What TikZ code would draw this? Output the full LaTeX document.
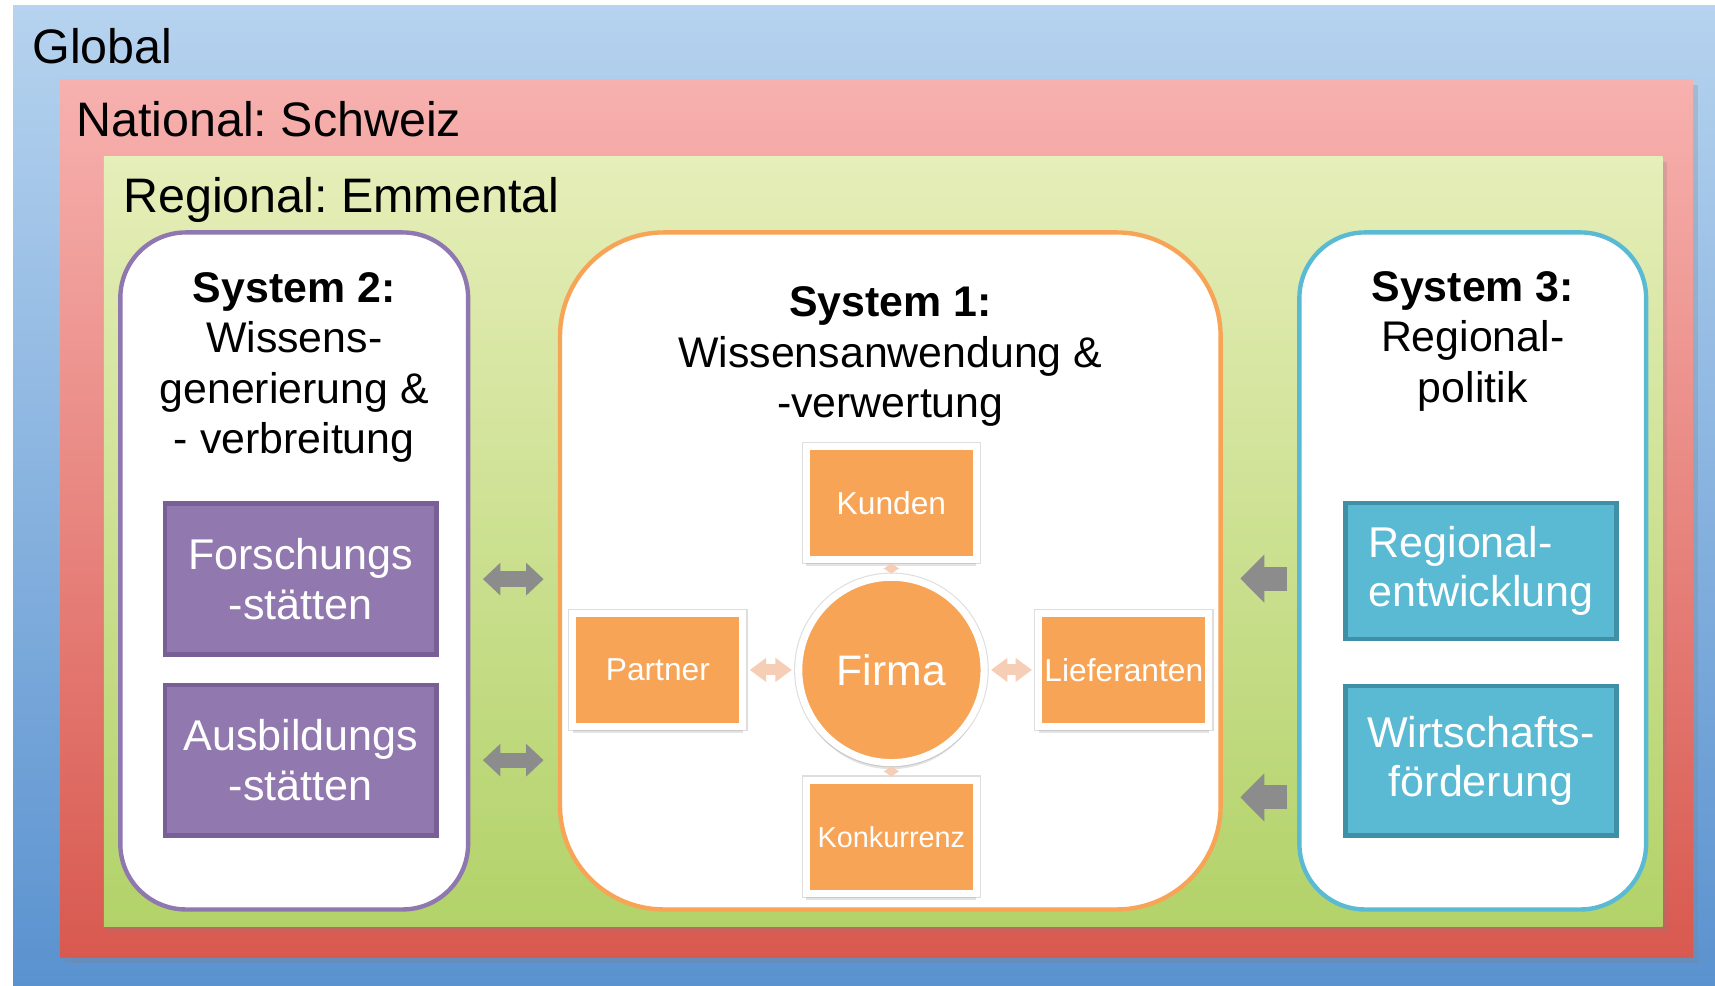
\documentclass[tikz,border=0pt]{standalone}
\usepackage{fontspec}
\setmainfont{Liberation Sans}
\usepackage{tikz}
\usetikzlibrary{positioning}
\usetikzlibrary{calc}
\usetikzlibrary{arrows.meta}
\usetikzlibrary{shadows}
\frenchspacing

\definecolor{glbtop}{HTML}{B6D3EF}
\definecolor{glbbot}{HTML}{5A92CF}
\definecolor{nattop}{HTML}{F7B1AF}
\definecolor{natbot}{HTML}{D8594F}
\definecolor{regtop}{HTML}{E6EEB9}
\definecolor{regbot}{HTML}{B2D269}
\definecolor{lila}{HTML}{8F77B0}
\definecolor{lilafill}{HTML}{9179B0}
\definecolor{liladark}{HTML}{785F96}
\definecolor{firmorange}{HTML}{F8A456}
\definecolor{tuerkis}{HTML}{5BBAD3}
\definecolor{tuerkisdark}{HTML}{3F8FA6}
\definecolor{pfeilgrau}{HTML}{8C8C8C}
\definecolor{linkpink}{HTML}{F6CDB5}

\newcommand{\lvlfont}{\fontsize{12.6pt}{15pt}\selectfont}
\newcommand{\sysfont}{\fontsize{11.15pt}{13.1pt}\selectfont}
\newcommand{\kastenfont}{\fontsize{11.2pt}{12.8pt}\selectfont}
\newcommand{\partfont}{\fontsize{8.25pt}{10pt}\selectfont}

\begin{document}
\begin{tikzpicture}[node distance=2cm,on grid,
    layer/.style={inner sep=0pt, outer sep=0pt},
    layerlabel/.style={anchor=base west, inner sep=0pt, font=\lvlfont},
    system/.style={draw, line width=0.4mm, fill=white, rounded corners=0.6cm, minimum height=6.19cm},
    systitle/.style={anchor=north, inner sep=0pt, align=center, font=\sysfont},
    sysbox/.style={line width=0.4mm, minimum width=2.48cm, text=white, align=center, font=\kastenfont},
    whiteframe/.style={fill=firmorange, draw=white, line width=0.65mm, text=white,
        preaction={draw=black!13, line width=0.85mm},
        drop shadow={opacity=0.22, shadow xshift=0pt, shadow yshift=-0.6mm}},
    partbox/.style={whiteframe, inner sep=0pt,
        minimum width=1.555cm, minimum height=1.035cm, font=\partfont},
    twoway/.style={draw=pfeilgrau, line width=1.4mm,
        {Triangle[width=2.9mm,length=1.6mm]}-{Triangle[width=2.9mm,length=1.6mm]},
        shorten <=1.15mm, shorten >=1.3mm},
    pushleft/.style={draw=pfeilgrau, line width=2.2mm, -{Triangle[width=4.3mm,length=2.2mm]},
        shorten <=0.9mm, shorten >=1.6mm},
    linkarrow/.style={draw=linkpink, line width=1mm,
        {Triangle[width=2.1mm,length=1.5mm]}-{Triangle[width=2.1mm,length=1.5mm]},
        shorten <=0.3mm, shorten >=0.3mm},
    linkdiamond/.style={draw=linkpink, line width=0.2mm,
        {Triangle[width=1.4mm,length=0.5mm]}-{Triangle[width=1.4mm,length=0.5mm]}}
  ]
    \useasboundingbox (0,0) rectangle (15.68,-9.01);
    \fill[white] (0,0) rectangle (15.68,-9.01);

    % ebenen
    \node[layer, top color=glbtop, bottom color=glbbot, minimum width=15.56cm, minimum height=8.96cm] (global) at (7.90,-4.53) {};
    \node[layer, top color=nattop, bottom color=natbot, minimum width=14.93cm, minimum height=8.02cm,
          drop shadow={opacity=0.25, shadow xshift=0.4mm, shadow yshift=-0.5mm}] (national) at (8.015,-4.74) {};
    \node[layer, top color=regtop, bottom color=regbot, minimum width=14.25cm, minimum height=7.04cm,
          drop shadow={opacity=0.25, shadow xshift=0.4mm, shadow yshift=-0.5mm}] (regional) at (8.075,-4.95) {};

    \node[layerlabel] (globaltxt)   at ($(global.north west)+(0.17,-0.535)$)   {Global};
    \node[layerlabel] (nationaltxt) at ($(national.north west)+(0.14,-0.52)$)  {National: Schweiz};
    \node[layerlabel] (regionaltxt) at ($(regional.north west)+(0.17,-0.51)$)  {Regional: Emmental};

    % die drei systeme
    \node[system, draw=lila, minimum width=3.18cm]                                   (sys2) at (2.69,-5.22) {};
    \node[system, draw=firmorange, rounded corners=0.95cm, minimum width=6.04cm, right=5.45cm of sys2] (sys1) {};
    \node[system, draw=tuerkis, minimum width=3.17cm, right=5.325cm of sys1]         (sys3) {};

    \node[systitle] (sys2txt) at ([yshift=-0.38cm]sys2.north) {\textbf{System 2:}\\Wissens-\\generierung \&\\- verbreitung};
    \node[systitle] (sys1txt) at ([yshift=-0.51cm]sys1.north)  {\textbf{System 1:}\\Wissensanwendung \&\\-verwertung};
    \node[systitle] (sys3txt) at ([yshift=-0.37cm]sys3.north)  {\textbf{System 3:}\\Regional-\\politik};

    \node[sysbox, fill=lilafill, draw=liladark, minimum height=1.38cm]                 (forsch) at (2.75,-5.295) {Forschungs\\-stätten};
    \node[sysbox, fill=lilafill, draw=liladark, minimum height=1.38cm, below=1.655cm of forsch] (ausb) {Ausbildungs\\-stätten};

    \node[sysbox, fill=tuerkis, draw=tuerkisdark, minimum height=1.24cm, align=left]  (regent) at (13.54,-5.22) {Regional-\\entwicklung};
    \node[sysbox, fill=tuerkis, draw=tuerkisdark, minimum height=1.37cm, below=1.735cm of regent] (wirt) {Wirtschafts-\\förderung};

    % firma und umfeld
    \node[circle, whiteframe, minimum size=1.695cm, font=\fontsize{11.1pt}{13pt}\selectfont] (firma) at (8.15,-6.125) {Firma};
    \node[partbox, above=1.525cm of firma] (kunden)  {Kunden};
    \node[partbox, left=2.135cm of firma]  (partner) {Partner};
    \node[partbox, right=2.125cm of firma] (liefer)  {Lieferanten};
    \node[partbox, below=1.525cm of firma, font=\fontsize{7.5pt}{9pt}\selectfont] (konk) {Konkurrenz};

    \draw[linkarrow]   (firma) -- (partner);
    \draw[linkarrow]   (firma) -- (liefer);
    \draw[linkdiamond] (kunden) -- (firma);
    \draw[linkdiamond] (firma) -- (konk);

    % pfeile zwischen den systemen
    \draw[twoway]   (forsch -| sys2.east) -- (forsch -| sys1.west);
    \draw[twoway]   (ausb -| sys2.east)   -- (ausb -| sys1.west);
    \draw[pushleft] ([yshift=-0.07cm]sys3.west) -- ([yshift=-0.07cm]sys1.east);
    \draw[pushleft] ([yshift=-2.07cm]sys3.west) -- ([yshift=-2.07cm]sys1.east);
\end{tikzpicture}
\end{document}
